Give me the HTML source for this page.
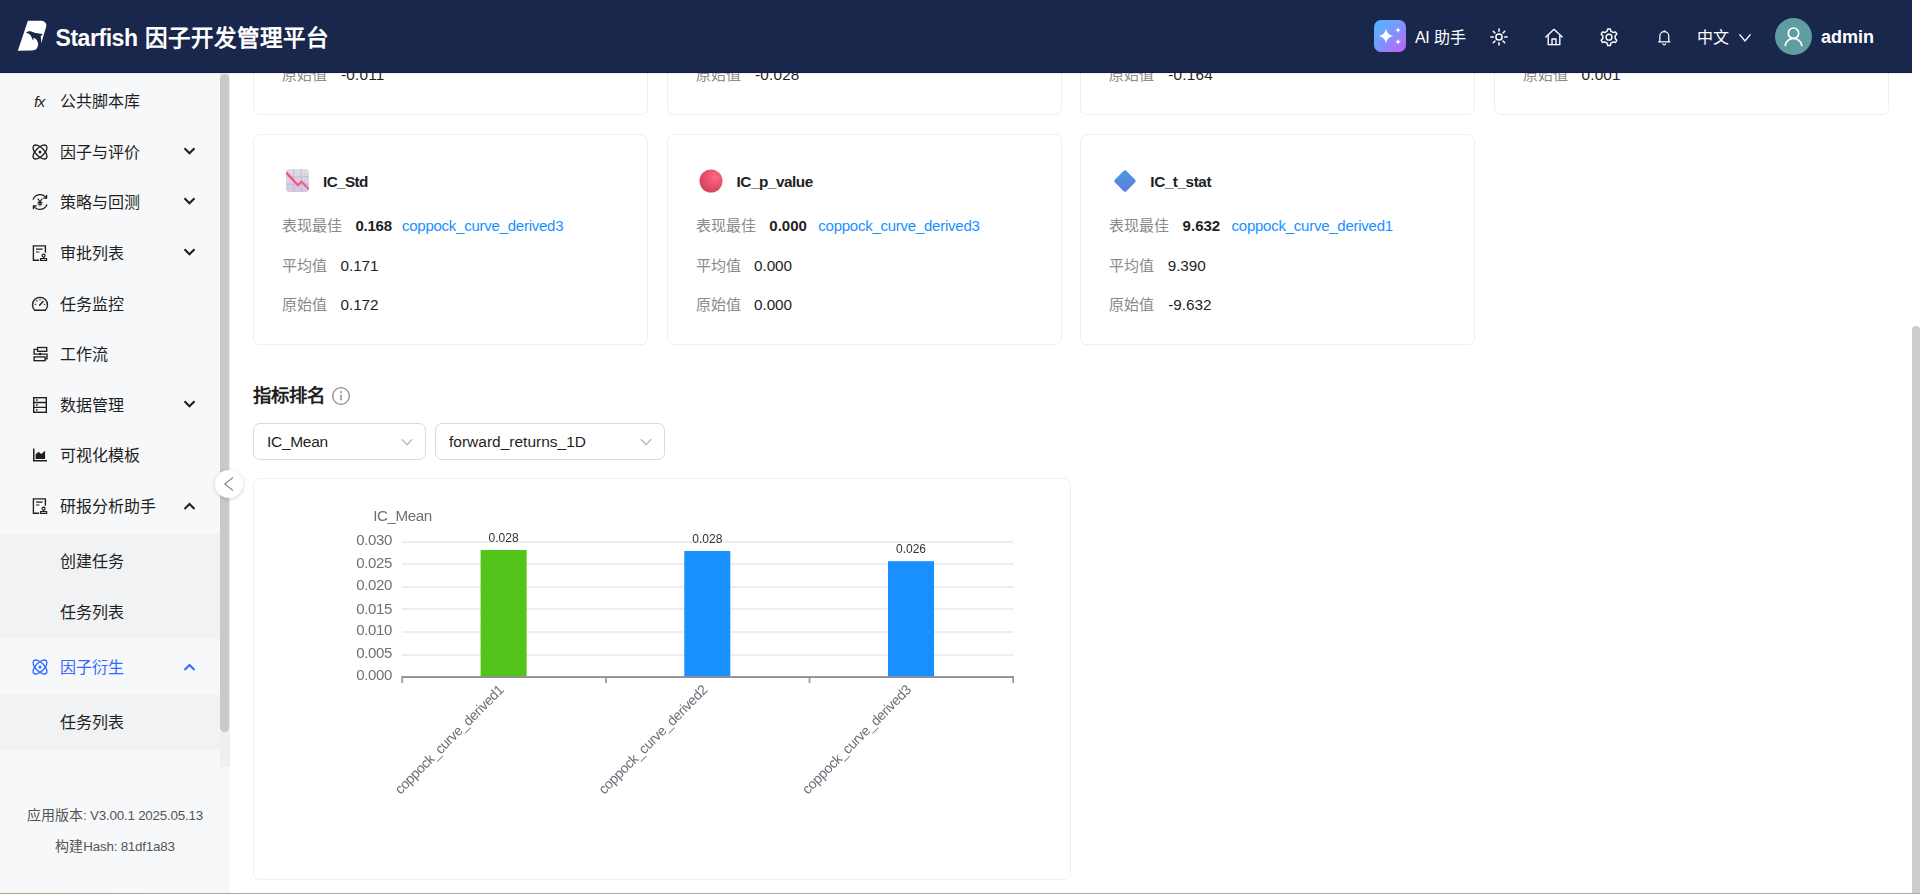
<!DOCTYPE html>
<html lang="zh-CN">
<head>
<meta charset="utf-8">
<title>Starfish 因子开发管理平台</title>
<style>
*{box-sizing:border-box;margin:0;padding:0}
html,body{width:1920px;height:894px;overflow:hidden;background:#fff}
body{font-family:"Liberation Sans",sans-serif;color:#1f1f1f;position:relative;font-size:15px}
.abs{position:absolute}
.t{position:absolute;white-space:nowrap;line-height:1}
#hdr{position:absolute;left:0;top:0;width:1912px;height:73px;background:#1a274c;z-index:10;box-shadow:inset 0 -1px 0 #101f49,0 1px 0 rgba(60,50,40,.06)}
#hdr .t{color:#fff}
#side{position:absolute;left:0;top:73px;width:230px;height:820px;background:#f7f8fa;overflow:hidden}
#side .sub{position:absolute;left:0;width:220px;background:#f1f2f4}
#side .mi{position:absolute;left:60px;font-size:16px;line-height:20px;white-space:nowrap;color:#1f1f1f}
#side .ic{position:absolute;left:31px;width:18px;height:18px}
#side .chev{position:absolute;left:183px;width:13px;height:13px}
#side .track{position:absolute;left:220px;top:0;width:10px;height:694px;background:#efefef}
#side .thumb{position:absolute;left:220px;top:1px;width:9px;height:658px;background:#c9c9c9;border-radius:5px}
.ver{position:absolute;left:0;width:230px;text-align:center;font-size:14px;line-height:18px;color:#555;white-space:nowrap}
.ver span{font-size:13.4px;letter-spacing:-0.22px}
#main{position:absolute;left:230px;top:73px;width:1682px;height:820px;background:#fff;overflow:hidden}
.card{position:absolute;background:#fff;border:1px solid #efefef;border-radius:7px}
.lbl{position:absolute;white-space:nowrap;line-height:20px;font-size:15px;color:#8a8a8a}
.val{position:absolute;white-space:nowrap;line-height:20px;font-size:15.3px;color:#1f1f1f;letter-spacing:-0.05px}
.val.b{font-weight:bold;font-size:15px;letter-spacing:-0.25px}
.lnk{position:absolute;white-space:nowrap;line-height:20px;font-size:15px;color:#1890ff;letter-spacing:-0.25px}
.ttl{position:absolute;white-space:nowrap;line-height:20px;font-size:15.3px;font-weight:bold;color:#1f1f1f}
.sel{position:absolute;height:37px;border:1px solid #d9d9d9;border-radius:7px;background:#fff}
.sel span{position:absolute;left:13px;top:8px;line-height:20px;font-size:15.5px;color:#1f1f1f;white-space:nowrap}
.sel svg{position:absolute;right:12.5px;top:11.5px}
#vs{position:absolute;left:1912px;top:326px;width:8px;height:580px;background:#cccccc;border-radius:4px}
#bl{position:absolute;left:0;top:893px;width:1920px;height:1px;background:linear-gradient(90deg,#a9a689 0%,#b2a9a3 15%,#b1aca8 100%)}
</style>
</head>
<body>
<div id="main">
  <div class="card" style="left:23px;top:-170px;width:395px;height:212px"></div>
  <div class="card" style="left:437px;top:-170px;width:395px;height:212px"></div>
  <div class="card" style="left:850px;top:-170px;width:395px;height:212px"></div>
  <div class="card" style="left:1264px;top:-170px;width:395px;height:212px"></div>
  <div class="lbl" style="left:52px;top:-8px">原始值</div><div class="val" style="left:111px;top:-8px;letter-spacing:0.2px">-0.011</div>
  <div class="lbl" style="left:466px;top:-8px">原始值</div><div class="val" style="left:525px;top:-8px;letter-spacing:0.2px">-0.028</div>
  <div class="lbl" style="left:879px;top:-8px">原始值</div><div class="val" style="left:938.3px;top:-8px;letter-spacing:0.2px">-0.164</div>
  <div class="lbl" style="left:1293px;top:-8px">原始值</div><div class="val" style="left:1351.5px;top:-8px;letter-spacing:0.2px">0.001</div>
  <div class="card" style="left:23px;top:61px;width:395px;height:211px"></div>
  <div class="card" style="left:437px;top:61px;width:395px;height:211px"></div>
  <div class="card" style="left:850px;top:61px;width:395px;height:211px"></div>
  <svg class="abs" style="left:56px;top:96px" width="23" height="23" viewBox="0 0 24 24"><defs><linearGradient id="gpur" x1="0" y1="0" x2="0" y2="1"><stop offset="0" stop-color="#e2d9ea"/><stop offset="1" stop-color="#d3c6df"/></linearGradient><linearGradient id="gpk" x1="0" y1="0" x2="1" y2="1"><stop offset="0" stop-color="#f0506e"/><stop offset="1" stop-color="#f0609e"/></linearGradient></defs><rect x="0.100" y="0.100" width="23.800" height="23.800" rx="3.600" fill="url(#gpur)"/><path d="M8.100 .2V23.800M15.900 .2V23.800M.2 8.100H23.800M.2 15.900H23.800" stroke="#c5b6d3" stroke-width=".9" fill="none"/><path d="M.1 3.500L12.300 16.800L16.300 13.300L24 21.200" stroke="url(#gpk)" stroke-width="2.300" fill="none" stroke-linejoin="miter"/></svg>
  <div class="ttl" style="left:93.0px;top:99px;letter-spacing:-0.6px">IC_Std</div>
  <div class="lbl" style="left:51.5px;top:143px">表现最佳</div>
  <div class="val b" style="left:125.5px;top:143px;letter-spacing:-0.25px">0.168</div>
  <div class="lnk" style="left:172.0px;top:143px">coppock_curve_derived3</div>
  <div class="lbl" style="left:51.5px;top:183px">平均值</div>
  <div class="val" style="left:110.5px;top:183px">0.171</div>
  <div class="lbl" style="left:51.5px;top:222px">原始值</div>
  <div class="val" style="left:110.5px;top:222px">0.172</div>
  <svg class="abs" style="left:468.5px;top:95.5px" width="24" height="24" viewBox="0 0 24 24"><defs><radialGradient id="gred" cx="0.68" cy="0.32" r="0.75"><stop offset="0" stop-color="#fb6a88"/><stop offset="0.55" stop-color="#ea5068"/><stop offset="1" stop-color="#d2405c"/></radialGradient></defs><circle cx="12" cy="12" r="11.500" fill="url(#gred)"/></svg>
  <div class="ttl" style="left:506.5px;top:99px;letter-spacing:-0.45px">IC_p_value</div>
  <div class="lbl" style="left:465.5px;top:143px">表现最佳</div>
  <div class="val b" style="left:539.3px;top:143px;letter-spacing:0.02px">0.000</div>
  <div class="lnk" style="left:588.3px;top:143px">coppock_curve_derived3</div>
  <div class="lbl" style="left:465.5px;top:183px">平均值</div>
  <div class="val" style="left:524.0px;top:183px">0.000</div>
  <div class="lbl" style="left:465.5px;top:222px">原始值</div>
  <div class="val" style="left:524.0px;top:222px">0.000</div>
  <svg class="abs" style="left:882.5px;top:95.5px" width="24" height="24" viewBox="0 0 24 24"><defs><linearGradient id="gblu" x1="0" y1="0" x2="1" y2="1"><stop offset="0" stop-color="#4d9be6"/><stop offset="1" stop-color="#5b7bdc"/></linearGradient></defs><rect x="3.900" y="3.900" width="16.200" height="16.200" rx="1.800" transform="rotate(45 12 12)" fill="url(#gblu)"/></svg>
  <div class="ttl" style="left:920.3px;top:99px;letter-spacing:-0.42px">IC_t_stat</div>
  <div class="lbl" style="left:879.3px;top:143px">表现最佳</div>
  <div class="val b" style="left:952.6px;top:143px;letter-spacing:0.02px">9.632</div>
  <div class="lnk" style="left:1001.6px;top:143px">coppock_curve_derived1</div>
  <div class="lbl" style="left:879.3px;top:183px">平均值</div>
  <div class="val" style="left:937.7px;top:183px">9.390</div>
  <div class="lbl" style="left:879.3px;top:222px">原始值</div>
  <div class="val" style="left:938.3px;top:222px">-9.632</div>
  <div class="abs" style="left:23px;top:312px;font-size:18.400px;line-height:22px;font-weight:bold;white-space:nowrap;color:#1f1f1f">指标排名</div>
  <svg class="abs" style="left:101px;top:313px" width="20" height="20" viewBox="0 0 20 20" fill="none" stroke="#8c8c8c" stroke-width="1.300"><circle cx="10" cy="10" r="8.300"/><path d="M10 8.600V14.200" stroke-width="1.500"/><circle cx="10" cy="6" r=".95" fill="#8c8c8c" stroke="none"/></svg>
  <div class="sel" style="left:23px;top:350px;width:173px"><span style="letter-spacing:-0.3px">IC_Mean</span><svg width="12" height="12" viewBox="0 0 13 13" fill="none" stroke="#b8b8b8" stroke-width="1.400"><path d="M1 3.500L6.500 9.500L12 3.500"/></svg></div>
  <div class="sel" style="left:205px;top:350px;width:230px"><span>forward_returns_1D</span><svg width="12" height="12" viewBox="0 0 13 13" fill="none" stroke="#b8b8b8" stroke-width="1.400"><path d="M1 3.500L6.500 9.500L12 3.500"/></svg></div>
  <div class="card" style="left:23px;top:405px;width:818px;height:402px"></div>
  <svg class="abs" style="left:23px;top:405px;will-change:transform" width="818" height="401" viewBox="253 478 818 401" font-family="Liberation Sans, sans-serif"><rect x="402" y="541" width="611.500" height="2.100" fill="#eaeef5"/><rect x="402" y="563" width="611.500" height="2.100" fill="#eaeef5"/><rect x="402" y="586" width="611.500" height="2.100" fill="#eaeef5"/><rect x="402" y="608" width="611.500" height="2.100" fill="#eaeef5"/><rect x="402" y="631" width="611.500" height="2.100" fill="#eaeef5"/><rect x="402" y="654" width="611.500" height="2.100" fill="#eaeef5"/><rect x="480.600" y="550" width="46" height="127" fill="#52c41a"/><rect x="684.300" y="551" width="46" height="126" fill="#1890ff"/><rect x="888" y="561.200" width="46" height="115.800" fill="#1890ff"/><rect x="401.300" y="676.100" width="612.700" height="1.900" fill="#8f919a"/><rect x="401.3" y="678" width="1.800" height="5" fill="#9a9ca4"/><rect x="605" y="678" width="1.800" height="5" fill="#9a9ca4"/><rect x="808.6" y="678" width="1.800" height="5" fill="#9a9ca4"/><rect x="1012.3" y="678" width="1.800" height="5" fill="#9a9ca4"/><text x="392" y="544.7" text-anchor="end" font-size="15" letter-spacing="-0.35" fill="#6E7079">0.030</text><text x="392" y="568.2" text-anchor="end" font-size="15" letter-spacing="-0.35" fill="#6E7079">0.025</text><text x="392" y="590.3" text-anchor="end" font-size="15" letter-spacing="-0.35" fill="#6E7079">0.020</text><text x="392" y="613.5" text-anchor="end" font-size="15" letter-spacing="-0.35" fill="#6E7079">0.015</text><text x="392" y="634.9" text-anchor="end" font-size="15" letter-spacing="-0.35" fill="#6E7079">0.010</text><text x="392" y="657.9" text-anchor="end" font-size="15" letter-spacing="-0.35" fill="#6E7079">0.005</text><text x="392" y="680.2" text-anchor="end" font-size="15" letter-spacing="-0.35" fill="#6E7079">0.000</text><text x="373.200" y="521" font-size="15.200" letter-spacing="-0.45" fill="#6E7079">IC_Mean</text><text x="503.6" y="542.3" text-anchor="middle" font-size="12" fill="#333">0.028</text><text x="707.3" y="543.1" text-anchor="middle" font-size="12" fill="#333">0.028</text><text x="911" y="552.9" text-anchor="middle" font-size="12" fill="#333">0.026</text><text transform="translate(504.6 690.800) rotate(-45)" text-anchor="end" font-size="14" letter-spacing="-0.38" fill="#6E7079">coppock_curve_derived1</text><text transform="translate(708.3 690.800) rotate(-45)" text-anchor="end" font-size="14" letter-spacing="-0.38" fill="#6E7079">coppock_curve_derived2</text><text transform="translate(912.0 690.800) rotate(-45)" text-anchor="end" font-size="14" letter-spacing="-0.38" fill="#6E7079">coppock_curve_derived3</text></svg>
</div>
<div id="side">
  <div class="sub" style="top:461px;height:105px"></div>
  <div class="sub" style="top:622px;height:55px"></div>
  <div class="abs" style="left:34px;top:19px;font-size:15.500px;line-height:20px;font-style:italic;letter-spacing:-0.8px;color:#1f1f1f">fx</div>
  <div class="mi" style="top:19px;color:#1f1f1f">公共脚本库</div>
  <svg class="ic" style="top:70px;color:#1f1f1f" viewBox="0 0 18 18" fill="none" stroke="currentColor" stroke-width="1.35"><ellipse cx="9" cy="9" rx="8.9" ry="4.2" transform="rotate(45 9 9)"/><ellipse cx="9" cy="9" rx="8.9" ry="4.2" transform="rotate(-45 9 9)"/><circle cx="9" cy="9" r="1.5" fill="currentColor" stroke="none"/></svg>
  <div class="mi" style="top:70px;color:#1f1f1f">因子与评价</div>
  <svg class="chev" style="top:71px;color:#1f1f1f" viewBox="0 0 13 13" fill="none" stroke="currentColor" stroke-width="2.1"><path d="M1.5 4.2L6.5 9.2L11.5 4.2"/></svg>
  <svg class="ic" style="top:120px;color:#1f1f1f" viewBox="0 0 18 18" fill="none" stroke="currentColor" stroke-width="1.3" stroke-linecap="round" stroke-linejoin="round"><path d="M2.2 6.2A7.3 7.3 0 0 1 15.2 5.0"/><path d="M15.8 11.8A7.3 7.3 0 0 1 2.8 13.0"/><path d="M15.6 2.3v2.9h-2.9"/><path d="M2.4 15.7v-2.9h2.9"/><path d="M7 5.900L9 8.800l2-2.900M9 8.800v3.900M7.100 9.400h3.800M7.100 11.100h3.800" stroke-width="1.100"/></svg>
  <div class="mi" style="top:120px;color:#1f1f1f">策略与回测</div>
  <svg class="chev" style="top:121px;color:#1f1f1f" viewBox="0 0 13 13" fill="none" stroke="currentColor" stroke-width="2.1"><path d="M1.5 4.2L6.5 9.2L11.5 4.2"/></svg>
  <svg class="ic" style="top:171px;color:#1f1f1f" viewBox="0 0 18 18" fill="none" stroke="currentColor" stroke-width="1.35" stroke-linejoin="miter"><path d="M8.2 16.3H2.4V1.8h12v7"/><path d="M5 5.2h6.6M5 8h3.4" stroke-width="1.2"/><circle cx="12.6" cy="11.6" r="1.5" stroke-width="1.2"/><path d="M12.6 13.1v1.4M9.6 16.4v-1.9h6v1.9z" stroke-width="1.2"/></svg>
  <div class="mi" style="top:171px;color:#1f1f1f">审批列表</div>
  <svg class="chev" style="top:172px;color:#1f1f1f" viewBox="0 0 13 13" fill="none" stroke="currentColor" stroke-width="2.1"><path d="M1.5 4.2L6.5 9.2L11.5 4.2"/></svg>
  <svg class="ic" style="top:222px;color:#1f1f1f" viewBox="0 0 18 18" fill="none" stroke="currentColor" stroke-width="1.35" stroke-linecap="round"><path d="M3.700 15.200A7.500 7.500 0 1 1 14.300 15.200z" stroke-linejoin="round"/><path d="M8.6 10.2L12 6.6" stroke-width="1.5"/><path d="M4 9.2h.8M5.6 5.6l.5.5M9 4.2v.7M13.2 9.2h.8" stroke-width="1.1"/></svg>
  <div class="mi" style="top:222px;color:#1f1f1f">任务监控</div>
  <svg class="ic" style="top:272px;color:#1f1f1f" viewBox="0 0 18 18" fill="none" stroke="currentColor" stroke-width="1.35"><rect x="6.6" y="2.500" width="9.100" height="3.800"/><rect x="3.100" y="11.900" width="11" height="3.800"/><path d="M6.600 4.400H3.100V9.100H16V13.800H14.100"/><circle cx="9.200" cy="9.100" r="1.250" fill="currentColor" stroke="none"/></svg>
  <div class="mi" style="top:272px;color:#1f1f1f">工作流</div>
  <svg class="ic" style="top:323px;color:#1f1f1f" viewBox="0 0 18 18" fill="none" stroke="currentColor" stroke-width="1.4"><rect x="2.7" y="1.7" width="12.6" height="14.6"/><path d="M2.7 6.5h12.6M2.7 11.4h12.6"/><path d="M5 4.1h1.6M5 9h1.6M5 13.9h1.6" stroke-width="1.5"/></svg>
  <div class="mi" style="top:323px;color:#1f1f1f">数据管理</div>
  <svg class="chev" style="top:324px;color:#1f1f1f" viewBox="0 0 13 13" fill="none" stroke="currentColor" stroke-width="2.1"><path d="M1.5 4.2L6.5 9.2L11.5 4.2"/></svg>
  <svg class="ic" style="top:373px;color:#1f1f1f" viewBox="0 0 18 18" fill="currentColor" stroke="none"><path d="M2 2.5h1.5v11.6H16v1.5H2z"/><path d="M4.6 12.9V8.3l3-2.6 2.6 2.3 3.9-3.3v8.2z"/></svg>
  <div class="mi" style="top:373px;color:#1f1f1f">可视化模板</div>
  <svg class="ic" style="top:424px;color:#1f1f1f" viewBox="0 0 18 18" fill="none" stroke="currentColor" stroke-width="1.35" stroke-linejoin="miter"><path d="M8.2 16.3H2.4V1.8h12v7"/><path d="M5 5.2h6.6M5 8h3.4" stroke-width="1.2"/><circle cx="12.6" cy="11.6" r="1.5" stroke-width="1.2"/><path d="M12.6 13.1v1.4M9.6 16.4v-1.9h6v1.9z" stroke-width="1.2"/></svg>
  <div class="mi" style="top:424px;color:#1f1f1f">研报分析助手</div>
  <svg class="chev" style="top:427px;color:#1f1f1f" viewBox="0 0 13 13" fill="none" stroke="currentColor" stroke-width="2.1"><path d="M1.5 9.0L6.5 4.0L11.5 9.0"/></svg>
  <div class="mi" style="top:479px;color:#1f1f1f">创建任务</div>
  <div class="mi" style="top:530px;color:#1f1f1f">任务列表</div>
  <svg class="ic" style="top:585px;color:#2f6bff" viewBox="0 0 18 18" fill="none" stroke="currentColor" stroke-width="1.35"><ellipse cx="9" cy="9" rx="8.9" ry="4.2" transform="rotate(45 9 9)"/><ellipse cx="9" cy="9" rx="8.9" ry="4.2" transform="rotate(-45 9 9)"/><circle cx="9" cy="9" r="1.5" fill="currentColor" stroke="none"/></svg>
  <div class="mi" style="top:585px;color:#2f6bff">因子衍生</div>
  <svg class="chev" style="top:588px;color:#2f6bff" viewBox="0 0 13 13" fill="none" stroke="currentColor" stroke-width="2.1"><path d="M1.5 9.0L6.5 4.0L11.5 9.0"/></svg>
  <div class="mi" style="top:640px;color:#1f1f1f">任务列表</div>
  <div class="ver" style="top:733px">应用版本<span>: V3.00.1 2025.05.13</span></div>
  <div class="ver" style="top:764px">构建<span>Hash: 81df1a83</span></div>
  <div class="track"></div>
  <div class="thumb"></div>
</div>
<div class="abs" style="left:215px;top:470px;width:28px;height:28px;border-radius:50%;background:#fff;box-shadow:0 1px 4px rgba(0,0,0,.18);z-index:5"></div>
<svg class="abs" style="left:215px;top:470px;z-index:6" width="28" height="28" viewBox="0 0 28 28" fill="none" stroke="#8a8a8a" stroke-width="1.300"><path d="M18 7.500L9.800 14L18 20.500"/></svg>
<div id="hdr">
  <svg class="abs" style="left:12px;top:16px" width="40" height="40" viewBox="0 0 40 40"><path fill="#fff" d="M15.900 4.800H28.600C32.600 4.800 35 7.300 34.200 10.500L29.400 26.900L26.400 27.700L25.500 31.300C24.600 33.400 22.600 34.600 19.700 34.600L5.800 34.700Z"/><path fill="#1a274c" d="M13.900 16.800C15.500 15.200 17.500 14.800 19.500 15.600C22 16.600 24.500 17.800 30.900 18.100L28.700 20.300L29.500 27.600L26.100 28.400C26 24.500 24 22.600 21.300 21.800L21.600 24.600C20.300 23.500 19.800 21.500 19 19.900C18 18.200 16 17.300 13.900 16.800Z"/></svg>
  <div class="t" style="left:55.500px;top:27px;font-size:22.500px;font-weight:bold"><span style="font-size:23px;letter-spacing:-0.45px;margin-right:2px">Starfish </span>因子开发管理平台</div>
  <div class="abs" style="left:1374px;top:20px;width:32px;height:32px;border-radius:7px;background:linear-gradient(135deg,#4bbcff 0%,#8193ff 50%,#c45cf4 100%)"></div>
  <svg class="abs" style="left:1374px;top:20px" width="32" height="32" viewBox="0 0 32 32" fill="#fff"><path d="M12 9.000000000000002C13.278 13.331000000000001 14.769 14.822000000000001 19.1 16.1C14.769 17.378 13.278 18.869 12 23.200000000000003C10.722 18.869 9.231 17.378 4.9 16.1C9.231 14.822000000000001 10.722 13.331000000000001 12 9.000000000000002Z"/><path d="M24.1 7.3999999999999995C24.6508 8.9066 25.293400000000002 9.549199999999999 26.8 10.1C25.293400000000002 10.6508 24.6508 11.2934 24.1 12.8C23.549200000000003 11.2934 22.9066 10.6508 21.400000000000002 10.1C22.9066 9.549199999999999 23.549200000000003 8.9066 24.1 7.3999999999999995Z"/><path d="M24.1 19.1C24.6508 20.6066 25.293400000000002 21.249200000000002 26.8 21.8C25.293400000000002 22.3508 24.6508 22.9934 24.1 24.5C23.549200000000003 22.9934 22.9066 22.3508 21.400000000000002 21.8C22.9066 21.249200000000002 23.549200000000003 20.6066 24.1 19.1Z"/></svg>
  <div class="t" style="left:1415px;top:30px;font-size:16px"><span style="letter-spacing:-0.3px">AI </span>助手</div>
  <svg class="abs" style="left:1489.200px;top:27.200px" width="20" height="20" viewBox="0 0 20 20" fill="none" stroke="#fff" stroke-width="1.500" stroke-linecap="round"><circle cx="10" cy="10" r="3.100"/><line x1="10" y1="1.900" x2="10" y2="4.300" transform="rotate(0 10 10)"/><line x1="10" y1="1.900" x2="10" y2="4.300" transform="rotate(45 10 10)"/><line x1="10" y1="1.900" x2="10" y2="4.300" transform="rotate(90 10 10)"/><line x1="10" y1="1.900" x2="10" y2="4.300" transform="rotate(135 10 10)"/><line x1="10" y1="1.900" x2="10" y2="4.300" transform="rotate(180 10 10)"/><line x1="10" y1="1.900" x2="10" y2="4.300" transform="rotate(225 10 10)"/><line x1="10" y1="1.900" x2="10" y2="4.300" transform="rotate(270 10 10)"/><line x1="10" y1="1.900" x2="10" y2="4.300" transform="rotate(315 10 10)"/></svg>
  <svg class="abs" style="left:1544px;top:27px" width="20" height="20" viewBox="0 0 22 22" fill="none" stroke="#fff" stroke-width="1.500" stroke-linejoin="round" stroke-linecap="round"><path d="M2 11L11 2.600L20 11"/><path d="M4.600 9.200V19.400H17.400V9.200"/><path d="M8.800 19.400V13.200H13.200V19.400"/></svg>
  <svg class="abs" style="left:1598px;top:26px" width="22" height="22" viewBox="0 0 22 22" fill="none" stroke="#fff" stroke-width="1.450" stroke-linejoin="round"><path d="M9.12 5.19L9.69 2.90L12.31 2.90L12.88 5.19L15.26 6.56L17.53 5.91L18.84 8.19L17.15 9.83L17.15 12.57L18.84 14.21L17.53 16.49L15.26 15.84L12.88 17.21L12.31 19.50L9.69 19.50L9.12 17.21L6.74 15.84L4.47 16.49L3.16 14.21L4.85 12.57L4.85 9.83L3.16 8.19L4.47 5.91L6.74 6.56Z"/><circle cx="11" cy="11.200" r="2.900"/></svg>
  <svg class="abs" style="left:1655.700px;top:27.700px" width="16.600" height="18.900" viewBox="0 0 20 22" fill="none" stroke="#fff" stroke-width="1.500" stroke-linejoin="round" stroke-linecap="round"><path d="M4.600 16V9.500a5.400 5.400 0 0 1 10.800 0V16"/><path d="M3.200 16.200H16.800"/><path d="M8.300 18.800a1.800 1.800 0 0 0 3.400 0"/><path d="M10 4.100V2.900"/></svg>
  <div class="t" style="left:1697px;top:30px;font-size:16px">中文</div>
  <svg class="abs" style="left:1738px;top:33px" width="14" height="10" viewBox="0 0 14 10" fill="none" stroke="#fff" stroke-width="1.400"><path d="M1.500 1.400L7 8L12.500 1.400"/></svg>
  <div class="abs" style="left:1775px;top:18px;width:37px;height:37px;border-radius:50%;background:#5f9ea0"></div>
  <svg class="abs" style="left:1775px;top:18px" width="37" height="37" viewBox="0 0 37 37" fill="none" stroke="#fff" stroke-width="1.700" stroke-linecap="round"><circle cx="18.500" cy="15.200" r="5.200"/><path d="M10.200 27.400a8.400 8.400 0 0 1 16.600 0"/></svg>
  <div class="t" style="left:1821px;top:28px;font-size:18px;font-weight:bold">admin</div>
</div>
<div id="vs"></div>
<div id="bl"></div>
</body>
</html>
